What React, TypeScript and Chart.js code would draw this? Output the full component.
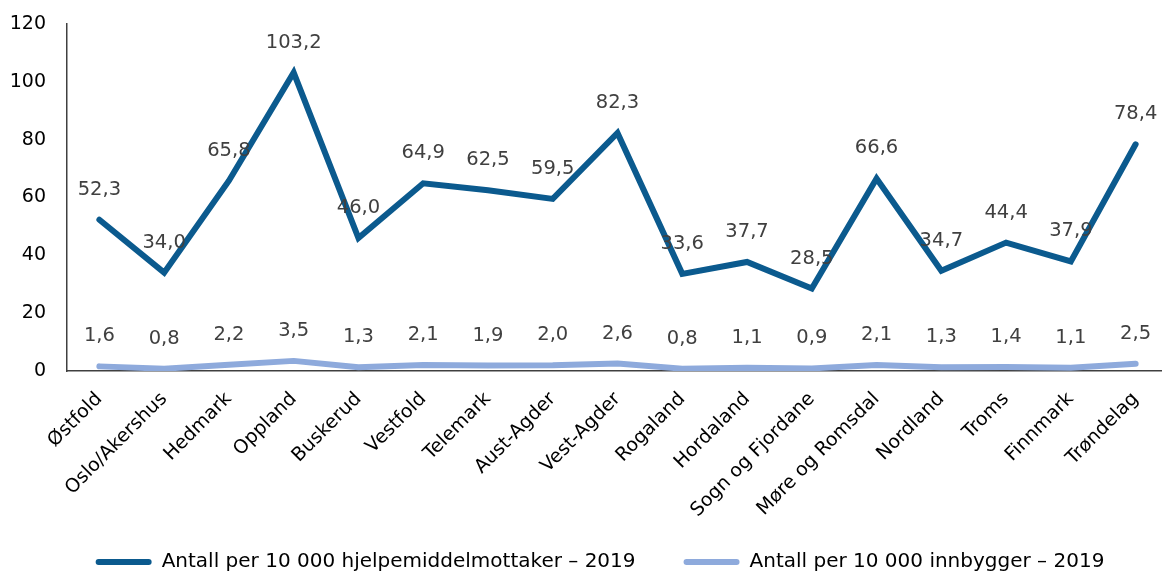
import React, { useEffect, useRef } from "react";
import Chart from "chart.js/auto";

const categories = [
  "Østfold", "Oslo/Akershus", "Hedmark", "Oppland", "Buskerud", "Vestfold",
  "Telemark", "Aust-Agder", "Vest-Agder", "Rogaland", "Hordaland",
  "Sogn og Fjordane", "Møre og Romsdal", "Nordland", "Troms", "Finnmark", "Trøndelag",
];
const perRecipients = [52.3, 34.0, 65.8, 103.2, 46.0, 64.9, 62.5, 59.5, 82.3, 33.6, 37.7, 28.5, 66.6, 34.7, 44.4, 37.9, 78.4];
const perInhabitants = [1.6, 0.8, 2.2, 3.5, 1.3, 2.1, 1.9, 2.0, 2.6, 0.8, 1.1, 0.9, 2.1, 1.3, 1.4, 1.1, 2.5];
const seriesNames = [
  "Antall per 10 000 hjelpemiddelmottaker – 2019",
  "Antall per 10 000 innbygger – 2019",
];
const yMin = 0;
const yMax = 120;
const yStep = 20;

const FONT = '"DejaVu Sans", sans-serif';
const DARK = "#0b5a8e";
const LIGHT = "#8eaadc";

const fmt = (v: number) => v.toFixed(1).replace(".", ",");

const valueLabels = {
  id: "valueLabels",
  afterDatasetsDraw(chart: any) {
    const ctx = chart.ctx;
    ctx.save();
    ctx.font = `19.5px ${FONT}`;
    ctx.fillStyle = "#404040";
    ctx.textAlign = "center";
    ctx.textBaseline = "middle";
    chart.data.datasets.forEach((ds: any, i: number) => {
      const meta = chart.getDatasetMeta(i);
      meta.data.forEach((pt: any, j: number) => {
        ctx.fillText(fmt(ds.data[j]), pt.x, pt.y - 30);
      });
    });
    ctx.restore();
  },
};

// shift the legend box slightly right so it is centred like the original
const legendShift = {
  id: "legendShift",
  afterLayout(chart: any) {
    if (chart.legend) {
      chart.legend.left += 16;
      chart.legend.right += 16;
    }
  },
};

export default function App() {
  const ref = useRef<HTMLCanvasElement | null>(null);
  useEffect(() => {
    if (!ref.current) return;
    const chart = new Chart(ref.current, {
      type: "line",
      data: {
        labels: categories,
        datasets: [
          {
            label: seriesNames[0],
            data: perRecipients,
            borderColor: DARK,
            backgroundColor: DARK,
            borderWidth: 6,
            pointRadius: 0,
            tension: 0,
            borderJoinStyle: "miter",
            borderCapStyle: "round",
          },
          {
            label: seriesNames[1],
            data: perInhabitants,
            borderColor: LIGHT,
            backgroundColor: LIGHT,
            borderWidth: 6,
            pointRadius: 0,
            tension: 0,
            borderJoinStyle: "round",
            borderCapStyle: "round",
          },
        ],
      },
      options: {
        responsive: false,
        maintainAspectRatio: false,
        devicePixelRatio: 1,
        animation: false,
        layout: { padding: { left: 0, right: 2, top: 24, bottom: 0 } },
        plugins: {
          tooltip: { enabled: false },
          legend: {
            position: "bottom",
            labels: {
              font: { family: FONT, size: 20 },
              color: "#000",
              boxWidth: 56,
              boxHeight: 6,
              padding: 48,
              useBorderRadius: true,
              borderRadius: 3,
              generateLabels: (c: any) =>
                Chart.defaults.plugins.legend.labels
                  .generateLabels(c)
                  .map((l: any) => ({ ...l, lineWidth: 0 })),
            },
          },
        },
        scales: {
          x: {
            type: "category",
            offset: true,
            grid: { display: false, drawTicks: false },
            border: { display: true, color: "#404040", width: 1.5 },
            ticks: {
              autoSkip: false,
              maxRotation: 45,
              minRotation: 45,
              padding: 17,
              color: "#000",
              font: { family: FONT, size: 19 },
            },
            afterFit: (s: any) => {
              s.height = 133;
              s._computeLabelArea = () => undefined;
            },
          },
          y: {
            min: yMin,
            max: yMax,
            grid: { display: false, drawTicks: false },
            border: { display: true, color: "#404040", width: 1.5 },
            ticks: {
              stepSize: yStep,
              padding: 21,
              color: "#000",
              font: { family: FONT, size: 19 },
            },
            afterFit: (s: any) => {
              s.width = 67;
              s.paddingTop = 0;
              s.paddingBottom = 0;
            },
          },
        },
      },
      plugins: [valueLabels, legendShift],
    });
    return () => chart.destroy();
  }, []);

  return (
    <div
      style={{
        position: "fixed",
        left: 0,
        top: 0,
        width: 1162,
        height: 571,
        overflow: "hidden",
        background: "#fff",
      }}
    >
      <canvas ref={ref} width={1170} height={582} style={{ display: "block" }} />
    </div>
  );
}
